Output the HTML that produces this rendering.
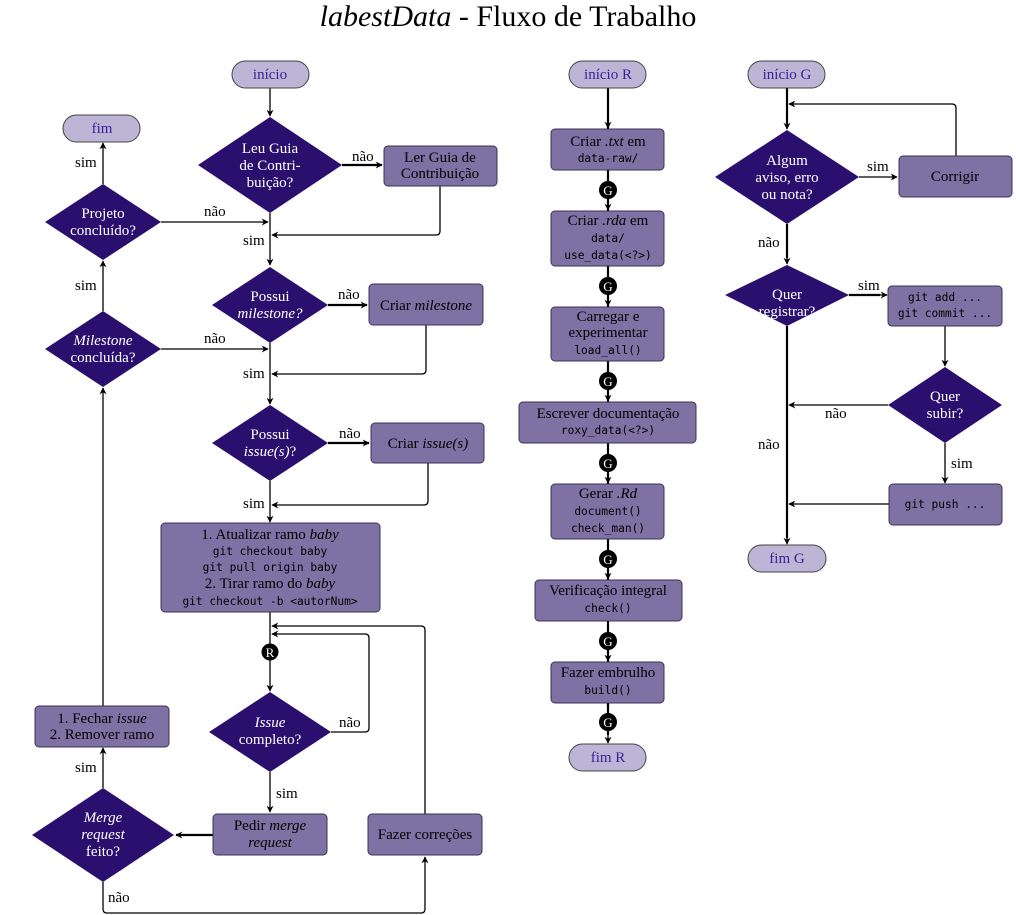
<!DOCTYPE html>
<html><head><meta charset="utf-8"><style>
html,body{margin:0;padding:0;background:#fff;width:1016px;height:915px;overflow:hidden}
svg{display:block}
text{font-family:"Liberation Serif",serif;font-size:15px}
.w{fill:#fff}
.c{text-anchor:middle}
.m{font-family:"DejaVu Sans Mono","Liberation Mono",monospace;font-size:11.2px}
.t{fill:#3b1f99;font-size:15px}
.d{fill:#2a0f6e}
.b{fill:#7e71a3;stroke:#3c3356;stroke-width:1}
.tm{fill:#bdb5d5;stroke:#444;stroke-width:1}
.l{fill:none;stroke:#000;stroke-width:1.3}
.L{fill:none;stroke:#000;stroke-width:2.2}
</style></head><body>
<svg width="1016" height="915" viewBox="0 0 1016 915" xmlns="http://www.w3.org/2000/svg">
<defs>
<marker id="a" viewBox="0 0 10 10" refX="9" refY="5" markerWidth="7" markerHeight="7" orient="auto" markerUnits="userSpaceOnUse"><path d="M0,0 L10,5 L0,10 L3,5 z" fill="#000"/></marker>
</defs>
<text x="508" y="26" class="c" style="font-size:30px"><tspan font-style="italic">labestData</tspan> - Fluxo de Trabalho</text>

<!-- LEFT COLUMN connectors -->
<path class="l" d="M270,88 V116" marker-end="url(#a)"/>
<path class="L" d="M342,165 H382" marker-end="url(#a)"/>
<path class="l" d="M440,186 V231 Q440,235 436,235 H272" marker-end="url(#a)"/>
<path class="l" d="M270,213 V265" marker-end="url(#a)"/>
<path class="l" d="M161,222 H268" marker-end="url(#a)"/>
<path class="l" d="M103,184 V143" marker-end="url(#a)"/>
<path class="L" d="M328,305 H367" marker-end="url(#a)"/>
<path class="l" d="M426,325 V370 Q426,374 422,374 H272" marker-end="url(#a)"/>
<path class="l" d="M161,349 H268" marker-end="url(#a)"/>
<path class="l" d="M103,311 V261" marker-end="url(#a)"/>
<path class="l" d="M270,343 V404" marker-end="url(#a)"/>
<path class="L" d="M328,443 H369" marker-end="url(#a)"/>
<path class="l" d="M428,463 V501 Q428,505 424,505 H272" marker-end="url(#a)"/>
<path class="l" d="M270,481 V522" marker-end="url(#a)"/>
<path class="l" d="M270,612 V691" marker-end="url(#a)"/>
<path class="l" d="M331,732 H365 Q369,732 369,728 V638 Q369,634 365,634 H272" marker-end="url(#a)"/>
<path class="l" d="M425,814 V630 Q425,626 421,626 H272" marker-end="url(#a)"/>
<path class="l" d="M270,772 V812" marker-end="url(#a)"/>
<path class="L" d="M213,835 H176" marker-end="url(#a)"/>
<path class="l" d="M103,788 V748" marker-end="url(#a)"/>
<path class="l" d="M103,706 V388" marker-end="url(#a)"/>
<path class="l" d="M103,882 V909 Q103,913 107,913 H421 Q425,913 425,909 V857" marker-end="url(#a)"/>

<!-- LEFT shapes -->
<rect class="tm" x="232" y="61" width="77" height="27" rx="13.5"/>
<text x="270" y="79" class="c t">início</text>
<rect class="tm" x="63" y="115" width="77" height="27" rx="13.5"/>
<text x="102" y="133" class="c t">fim</text>

<polygon class="d" points="270,117 342,165 270,213 198,165"/>
<text class="c w" x="270" y="153">Leu Guia</text>
<text class="c w" x="270" y="170">de Contri-</text>
<text class="c w" x="270" y="187">buição?</text>
<rect class="b" x="384" y="146" width="113" height="40" rx="4"/>
<text class="c" x="440" y="162">Ler Guia de</text>
<text class="c" x="440" y="178">Contribuição</text>

<polygon class="d" points="103,184 161,222 103,260 45,222"/>
<text class="c w" x="103" y="218">Projeto</text>
<text class="c w" x="103" y="235">concluído?</text>

<polygon class="d" points="270,267 328,305 270,343 212,305"/>
<text class="c w" x="270" y="301">Possui</text>
<text class="c w" x="270" y="318" font-style="italic">milestone?</text>
<rect class="b" x="369" y="284" width="114" height="41" rx="4"/>
<text class="c" x="426" y="310">Criar <tspan font-style="italic">milestone</tspan></text>

<polygon class="d" points="103,311 161,349 103,387 45,349"/>
<text class="c w" x="103" y="345" font-style="italic">Milestone</text>
<text class="c w" x="103" y="362">concluída?</text>

<polygon class="d" points="270,405 328,443 270,481 212,443"/>
<text class="c w" x="270" y="439">Possui</text>
<text class="c w" x="270" y="456"><tspan font-style="italic">issue(s)</tspan>?</text>
<rect class="b" x="371" y="423" width="113" height="40" rx="4"/>
<text class="c" x="428" y="448">Criar <tspan font-style="italic">issue(s)</tspan></text>

<rect class="b" x="161" y="523" width="219" height="89" rx="4"/>
<text class="c" x="270" y="539">1.  Atualizar ramo <tspan font-style="italic">baby</tspan></text>
<text class="c m" x="270" y="555">git checkout baby</text>
<text class="c m" x="270" y="571">git pull origin baby</text>
<text class="c" x="270" y="588">2.  Tirar ramo do <tspan font-style="italic">baby</tspan></text>
<text class="c m" x="270" y="605">git checkout -b &lt;autorNum&gt;</text>

<circle cx="270" cy="652" r="8.5" fill="#000"/>
<text class="c w" x="270" y="657" style="font-size:13px">R</text>

<polygon class="d" points="270,692 331,732 270,772 209,732"/>
<text class="c w" x="270" y="727" font-style="italic">Issue</text>
<text class="c w" x="270" y="744">completo?</text>

<rect class="b" x="213" y="814" width="114" height="41" rx="4"/>
<text class="c" x="270" y="830">Pedir <tspan font-style="italic">merge</tspan></text>
<text class="c" x="270" y="847" font-style="italic">request</text>

<polygon class="d" points="103,788 174,835 103,882 32,835"/>
<text class="c w" x="103" y="822" font-style="italic">Merge</text>
<text class="c w" x="103" y="839" font-style="italic">request</text>
<text class="c w" x="103" y="856">feito?</text>

<rect class="b" x="35" y="706" width="134" height="41" rx="4"/>
<text class="c" x="102" y="723">1.  Fechar <tspan font-style="italic">issue</tspan></text>
<text class="c" x="102" y="739">2.  Remover ramo</text>

<rect class="b" x="368" y="814" width="114" height="41" rx="4"/>
<text class="c" x="425" y="839">Fazer correções</text>

<!-- left labels -->
<text x="352" y="161">não</text>
<text x="243" y="245">sim</text>
<text x="204" y="216">não</text>
<text x="75" y="167">sim</text>
<text x="338" y="299">não</text>
<text x="243" y="378">sim</text>
<text x="204" y="343">não</text>
<text x="75" y="290">sim</text>
<text x="339" y="438">não</text>
<text x="243" y="508">sim</text>
<text x="339" y="727">não</text>
<text x="276" y="798">sim</text>
<text x="75" y="772">sim</text>
<text x="108" y="902">não</text>

<!-- MIDDLE COLUMN -->
<path class="L" d="M608,88 V707"/>
<path class="l" d="M608,110 V128" marker-end="url(#a)"/>
<path class="l" d="M608,196 V210" marker-end="url(#a)"/>
<path class="l" d="M608,293 V306" marker-end="url(#a)"/>
<path class="l" d="M608,388 V401" marker-end="url(#a)"/>
<path class="l" d="M608,470 V483" marker-end="url(#a)"/>
<path class="l" d="M608,566 V579" marker-end="url(#a)"/>
<path class="l" d="M608,648 V661" marker-end="url(#a)"/>
<path class="L" d="M608,703 V735"/>
<path class="l" d="M608,728 V743" marker-end="url(#a)"/>

<rect class="tm" x="569" y="61" width="77" height="27" rx="13.5"/>
<text x="608" y="79" class="c t">início R</text>

<rect class="b" x="551" y="129" width="113" height="41" rx="4"/>
<text class="c" x="608" y="146">Criar <tspan font-style="italic">.txt</tspan> em</text>
<text class="c m" x="608" y="162">data-raw/</text>

<rect class="b" x="551" y="211" width="113" height="55" rx="4"/>
<text class="c" x="608" y="225">Criar <tspan font-style="italic">.rda</tspan> em</text>
<text class="c m" x="608" y="242">data/</text>
<text class="c m" x="608" y="259">use_data(&lt;?&gt;)</text>

<rect class="b" x="551" y="307" width="113" height="54" rx="4"/>
<text class="c" x="608" y="321">Carregar e</text>
<text class="c" x="608" y="337">experimentar</text>
<text class="c m" x="608" y="354">load_all()</text>

<rect class="b" x="519" y="402" width="177" height="41" rx="4"/>
<text class="c" x="608" y="418">Escrever documentação</text>
<text class="c m" x="608" y="434">roxy_data(&lt;?&gt;)</text>

<rect class="b" x="551" y="484" width="113" height="55" rx="4"/>
<text class="c" x="608" y="498">Gerar <tspan font-style="italic">.Rd</tspan></text>
<text class="c m" x="608" y="515">document()</text>
<text class="c m" x="608" y="532">check_man()</text>

<rect class="b" x="535" y="580" width="147" height="41" rx="4"/>
<text class="c" x="608" y="595">Verificação integral</text>
<text class="c m" x="608" y="612">check()</text>

<rect class="b" x="551" y="662" width="113" height="41" rx="4"/>
<text class="c" x="608" y="677">Fazer embrulho</text>
<text class="c m" x="608" y="694">build()</text>

<rect class="tm" x="569" y="744" width="77" height="27" rx="13.5"/>
<text x="608" y="762" class="c t">fim R</text>

<g>
<circle cx="608" cy="190" r="9" fill="#000"/><text class="c w" x="608" y="195" style="font-size:13px">G</text>
<circle cx="608" cy="286" r="9" fill="#000"/><text class="c w" x="608" y="291" style="font-size:13px">G</text>
<circle cx="608" cy="381" r="9" fill="#000"/><text class="c w" x="608" y="386" style="font-size:13px">G</text>
<circle cx="608" cy="463" r="9" fill="#000"/><text class="c w" x="608" y="468" style="font-size:13px">G</text>
<circle cx="608" cy="559" r="9" fill="#000"/><text class="c w" x="608" y="564" style="font-size:13px">G</text>
<circle cx="608" cy="641" r="9" fill="#000"/><text class="c w" x="608" y="646" style="font-size:13px">G</text>
<circle cx="608" cy="722" r="9" fill="#000"/><text class="c w" x="608" y="727" style="font-size:13px">G</text>
</g>

<!-- RIGHT COLUMN -->
<path class="L" d="M787,88 V124"/>
<path class="l" d="M787,118 V129" marker-end="url(#a)"/>
<path class="l" d="M956,156 V108 Q956,104 952,104 H789" marker-end="url(#a)"/>
<path class="l" d="M859,177 H897" marker-end="url(#a)"/>
<path class="L" d="M787,224 V258"/>
<path class="l" d="M787,252 V264" marker-end="url(#a)"/>
<path class="L" d="M849,295 H880"/>
<path class="l" d="M876,295 H887" marker-end="url(#a)"/>
<path class="l" d="M945,326 V366" marker-end="url(#a)"/>
<path class="l" d="M888,405 H789" marker-end="url(#a)"/>
<path class="l" d="M945,443 V483" marker-end="url(#a)"/>
<path class="l" d="M889,504 H789" marker-end="url(#a)"/>
<path class="L" d="M787,326 V538"/>
<path class="l" d="M787,532 V544" marker-end="url(#a)"/>

<rect class="tm" x="748" y="61" width="77" height="27" rx="13.5"/>
<text x="787" y="79" class="c t">início G</text>

<polygon class="d" points="787,130 859,177 787,224 715,177"/>
<text class="c w" x="787" y="165">Algum</text>
<text class="c w" x="787" y="182">aviso, erro</text>
<text class="c w" x="787" y="199">ou nota?</text>

<rect class="b" x="899" y="156" width="113" height="41" rx="4"/>
<text class="c" x="955" y="181">Corrigir</text>

<polygon class="d" points="787,265 849,295 787,326 725,295"/>
<text class="c w" x="787" y="299">Quer</text>
<text class="c w" x="787" y="316">registrar?</text>

<rect class="b" x="888" y="286" width="114" height="40" rx="4"/>
<text class="c m" x="945" y="301">git add ...</text>
<text class="c m" x="945" y="317">git commit ...</text>

<polygon class="d" points="945,367 1002,405 945,443 888,405"/>
<text class="c w" x="945" y="401">Quer</text>
<text class="c w" x="945" y="418">subir?</text>

<rect class="b" x="889" y="484" width="113" height="41" rx="4"/>
<text class="c m" x="945" y="508">git push ...</text>

<rect class="tm" x="748" y="545" width="78" height="27" rx="13.5"/>
<text x="787" y="563" class="c t">fim G</text>

<text x="867" y="171">sim</text>
<text x="758" y="247">não</text>
<text x="858" y="290">sim</text>
<text x="825" y="418">não</text>
<text x="951" y="468">sim</text>
<text x="758" y="449">não</text>
</svg>
</body></html>
